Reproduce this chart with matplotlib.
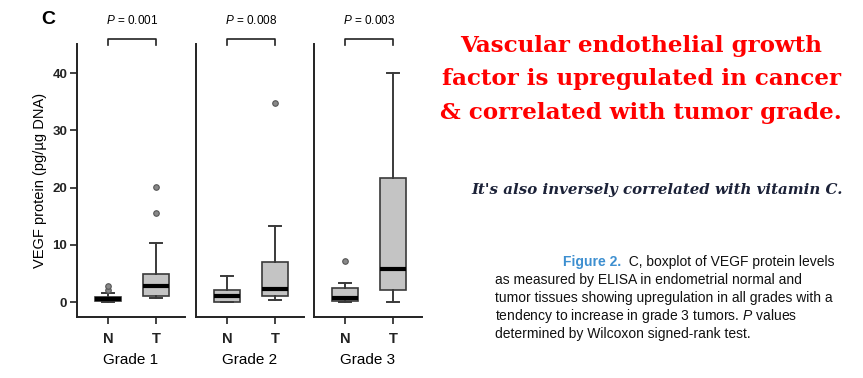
import matplotlib
matplotlib.use("Agg")
import matplotlib.pyplot as plt
from matplotlib.text import Annotation

plt.rcParams['font.family'] = ['Liberation Sans', 'DejaVu Sans']
plt.rcParams['mathtext.fontset'] = 'custom'
plt.rcParams['mathtext.rm'] = 'Liberation Sans'
plt.rcParams['mathtext.it'] = 'Liberation Sans:italic'
plt.rcParams['mathtext.bf'] = 'Liberation Sans:bold'

# ---- data ----
grades = ["Grade 1", "Grade 2", "Grade 3"]
groups = ["N", "T"]
p_values = ["0.001", "0.008", "0.003"]
# box statistics per grade: [N, T]
whislo = [[0.0, 0.7], [0.0, 0.45], [0.0, 0.1]]
q1 = [[0.15, 1.15], [0.1, 1.15], [0.17, 2.2]]
med = [[0.55, 2.8], [1.0, 2.3], [0.7, 5.7]]
q3 = [[0.95, 4.9], [2.2, 7.0], [2.4, 21.7]]
whishi = [[1.6, 10.3], [4.6, 13.3], [3.3, 40.1]]
fliers = [[[2.2, 2.8], [15.5, 20.1]], [[], [34.8]], [[7.1], []]]
yticks = [0, 10, 20, 30, 40]

W, H = 863, 378
fig = plt.figure(figsize=(W / 100, H / 100), dpi=100)

panel_left_px = [77, 196, 314]
panel_w_px = 108
ax_top_px, ax_bot_px = 44, 317

for i, g in enumerate(grades):
    ax = fig.add_axes([panel_left_px[i] / W, 1 - ax_bot_px / H,
                       panel_w_px / W, (ax_bot_px - ax_top_px) / H])
    stats = []
    for j in range(2):
        stats.append(dict(whislo=whislo[i][j], q1=q1[i][j], med=med[i][j],
                          q3=q3[i][j], whishi=whishi[i][j], fliers=fliers[i][j],
                          label=groups[j]))
    ax.bxp(stats, positions=[0, 1], widths=0.53, patch_artist=True,
           boxprops=dict(facecolor='#c4c4c4', edgecolor='#3a3a3a', linewidth=1.2),
           medianprops=dict(color='black', linewidth=3),
           whiskerprops=dict(color='#3a3a3a', linewidth=1.4),
           capprops=dict(color='#3a3a3a', linewidth=1.4),
           capwidths=0.25,
           flierprops=dict(marker='o', markersize=4, markerfacecolor='#888888',
                           markeredgecolor='#555555', markeredgewidth=0.8))
    ax.set_xlim(-0.65, 1.6)
    ax.set_ylim(-2.6, 45.1)
    for s in ['top', 'right']:
        ax.spines[s].set_visible(False)
    for s in ['left', 'bottom']:
        ax.spines[s].set_linewidth(1.4)
        ax.spines[s].set_color('#222222')
    ax.set_xticks([0, 1])
    ax.set_xticklabels(groups, fontsize=10.5, fontweight='bold')
    ax.tick_params(axis='x', length=5, width=1.2, pad=6, colors='#222222')
    ax.set_xlabel(g, fontsize=11, labelpad=5)
    if i == 0:
        ax.set_yticks(yticks)
        ax.set_yticklabels([str(t) for t in yticks], fontsize=9.5, fontweight='bold')
        ax.tick_params(axis='y', length=5, width=1.2, pad=2, colors='#222222')
        ax.set_ylabel("VEGF protein (pg/µg DNA)", fontsize=10.5, labelpad=4)
    else:
        ax.set_yticks([])
    # significance bracket (above the axes)
    tr = ax.get_xaxis_transform()
    span = ax_bot_px - ax_top_px
    yb = 1 + (ax_top_px - 39) / span
    yl = 1 + (ax_top_px - 45) / span
    ax.plot([0, 0, 1, 1], [yl, yb, yb, yl], transform=tr, color='#222222',
            linewidth=1.2, clip_on=False)
    yp = 1 + (ax_top_px - 20) / span
    ax.text(0.5, yp, r"$P$ = " + p_values[i], transform=tr, ha='center',
            va='center', fontsize=8.5)

fig.text(48 / W, 1 - 20 / H, "C", fontsize=14, fontweight='bold',
         ha='center', va='center')

# ---- right-hand text ----
title_lines = ["Vascular endothelial growth",
               "factor is upregulated in cancer",
               "& correlated with tumor grade."]
for k, line in enumerate(title_lines):
    fig.text(641 / W, 1 - (46 + 33.5 * k) / H, line, color='#ff0000',
             fontsize=16.6, fontweight='bold', family='DejaVu Serif',
             ha='center', va='center')

fig.text(843 / W, 1 - 190 / H, "It's also inversely correlated with vitamin C.",
         color='#1c2238', fontsize=10.8, fontweight='bold', style='italic',
         family='DejaVu Serif', ha='right', va='center')

cap_fs = 10
t0 = fig.text(563 / W, 1 - 262 / H, "Figure 2.", color='#3d8fd0',
              fontsize=cap_fs, fontweight='bold', ha='left', va='center')
a = Annotation("  C, boxplot of VEGF protein levels", xy=(1, 0.5), xycoords=t0,
               va='center', ha='left', fontsize=cap_fs, color='#111111')
fig.add_artist(a)
cap_lines = ["as measured by ELISA in endometrial normal and",
             "tumor tissues showing upregulation in all grades with a",
             r"tendency to increase in grade 3 tumors. $P$ values",
             "determined by Wilcoxon signed-rank test."]
for k, line in enumerate(cap_lines):
    fig.text(495 / W, 1 - (280 + 18 * k) / H, line, fontsize=cap_fs,
             color='#111111', ha='left', va='center')

fig.savefig("out.png", dpi=100)
